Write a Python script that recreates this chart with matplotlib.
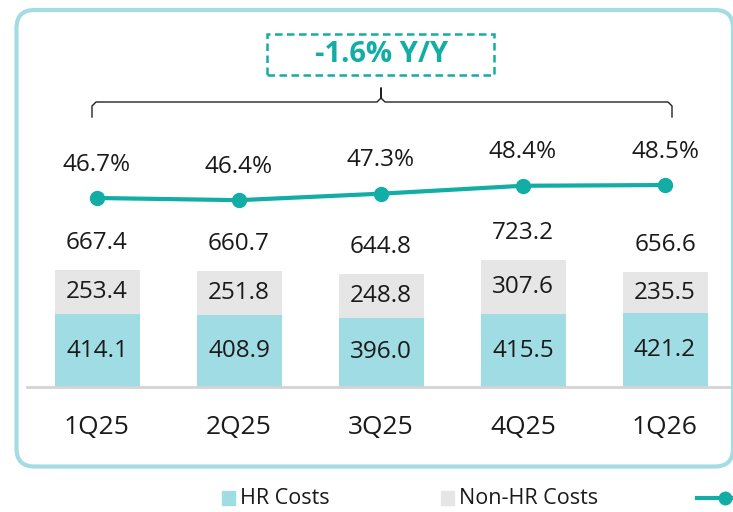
import numpy as np
import matplotlib
matplotlib.use("Agg")
import matplotlib.pyplot as plt
from matplotlib.patches import FancyBboxPatch, Rectangle
from matplotlib.lines import Line2D

plt.rcParams['font.family'] = ['Open Sans', 'DejaVu Sans']

# data
quarters = ['1Q25', '2Q25', '3Q25', '4Q25', '1Q26']
hr_costs = [414.1, 408.9, 396.0, 415.5, 421.2]
non_hr_costs = [253.4, 251.8, 248.8, 307.6, 235.5]
totals = [667.4, 660.7, 644.8, 723.2, 656.6]
hr_ratio = [46.7, 46.4, 47.3, 48.4, 48.5]
yoy_text = '-1.6% Y/Y'

HR_COL = '#a0dce3'
NONHR_COL = '#e6e6e6'
LINE_COL = '#12ada4'
TXT = '#1a1a1a'

W, H = 733, 512
fig = plt.figure(figsize=(W / 100, H / 100), dpi=100)


def px(x, y):
    # pixel (from top-left) -> figure fraction
    return x / W, 1 - y / H


# outer rounded frame (in inches so the corners stay round)
frame = FancyBboxPatch((16.5 / 100, (H - 466.5) / 100), (733 - 16.5) / 100, (466.5 - 10) / 100,
                       boxstyle="round,pad=0,rounding_size=0.18",
                       transform=fig.dpi_scale_trans, fill=False,
                       edgecolor='#a4dce3', linewidth=3, zorder=0)
fig.patches.append(frame)

# main axes: baseline at y=387px
base_px = 387
left_px = 27
ax = fig.add_axes([left_px / W, (H - base_px) / H, (W - left_px) / W, base_px / H])
ax.patch.set_alpha(0)
x = np.arange(len(quarters))
ax.set_xlim((left_px - 97) / 142, (W - 97) / 142)
ax.set_ylim(0, base_px / 0.1753)
bw = 85 / 142

ax.bar(x, hr_costs, width=bw, color=HR_COL, zorder=2)
ax.bar(x, non_hr_costs, width=bw, bottom=hr_costs, color=NONHR_COL, zorder=2)
ax.axhline(0, color='#d4d4d4', linewidth=2, zorder=3, clip_on=False)

for i in range(len(quarters)):
    ax.text(x[i], hr_costs[i] / 2, f'{hr_costs[i]:.1f}', ha='center', va='center',
            fontsize=17.5, color=TXT, zorder=4)
    ax.text(x[i], hr_costs[i] + non_hr_costs[i] / 2, f'{non_hr_costs[i]:.1f}',
            ha='center', va='center', fontsize=17.5, color=TXT, zorder=4)
    ax.annotate(f'{totals[i]:.1f}', (x[i], totals[i]), xytext=(0, 19.5),
                textcoords='offset points', ha='center', va='center',
                fontsize=17.5, color=TXT)
    ax.text(x[i], -(428 - base_px) / 0.1753, quarters[i], ha='center', va='center',
            fontsize=19, color=TXT, clip_on=False)

for s in ax.spines.values():
    s.set_visible(False)
ax.set_xticks([])
ax.set_yticks([])

# ratio line on a twin axis
ax2 = ax.twinx()
v0 = 46.7 - (base_px - 198) / 7.2
ax2.set_ylim(v0, v0 + base_px / 7.2)
ax2.plot(x, hr_ratio, color=LINE_COL, linewidth=3, marker='o', markersize=10,
         zorder=5)
for i in range(len(quarters)):
    ax2.annotate(f'{hr_ratio[i]:.1f}%', (x[i], hr_ratio[i]), xytext=(0, 24),
                 textcoords='offset points', ha='center', va='center',
                 fontsize=17.5, color=TXT)
for s in ax2.spines.values():
    s.set_visible(False)
ax2.set_yticks([])

# bracket
bx0, bx1, by, bc = 92, 672, 102, 381
pts = [(bx0, 117), (bx0, by + 4), (bx0 + 4, by), (bc - 4, by), (bc, by - 4),
       (bc, 88), (bc, by - 4), (bc + 4, by), (bx1 - 4, by), (bx1, by + 4), (bx1, 117)]
fx, fy = zip(*[px(a, b) for a, b in pts])
fig.lines.append(Line2D(fx, fy, transform=fig.transFigure, color='#222222',
                        linewidth=1))

# Y/Y box
box = Rectangle(px(267, 75), (494 - 267) / W, (75 - 34) / H,
                transform=fig.transFigure, fill=False, edgecolor=LINE_COL,
                linewidth=1.8, linestyle=(0, (3, 1.8)))
fig.patches.append(box)
fig.text(*px(382, 55), yoy_text, ha='center', va='center', fontsize=21,
         fontweight='bold', color=LINE_COL)

# legend
ly = 498
for sx, lab, col in [(222, 'HR Costs', HR_COL), (441, 'Non-HR Costs', NONHR_COL)]:
    fig.patches.append(Rectangle(px(sx, ly + 7), 13 / W, 14 / H,
                                 transform=fig.transFigure, color=col))
    fig.text(*px(sx + 18, ly), lab, ha='left', va='center', fontsize=15.5,
             color=TXT)
lx, lyf = zip(*[px(697, ly), px(760, ly)])
fig.lines.append(Line2D(lx, lyf, transform=fig.transFigure, color=LINE_COL,
                        linewidth=3))
fig.lines.append(Line2D([px(725, ly)[0]], [px(725, ly)[1]], transform=fig.transFigure,
                        color=LINE_COL, marker='o', markersize=9))

fig.savefig('out.png', dpi=100)
